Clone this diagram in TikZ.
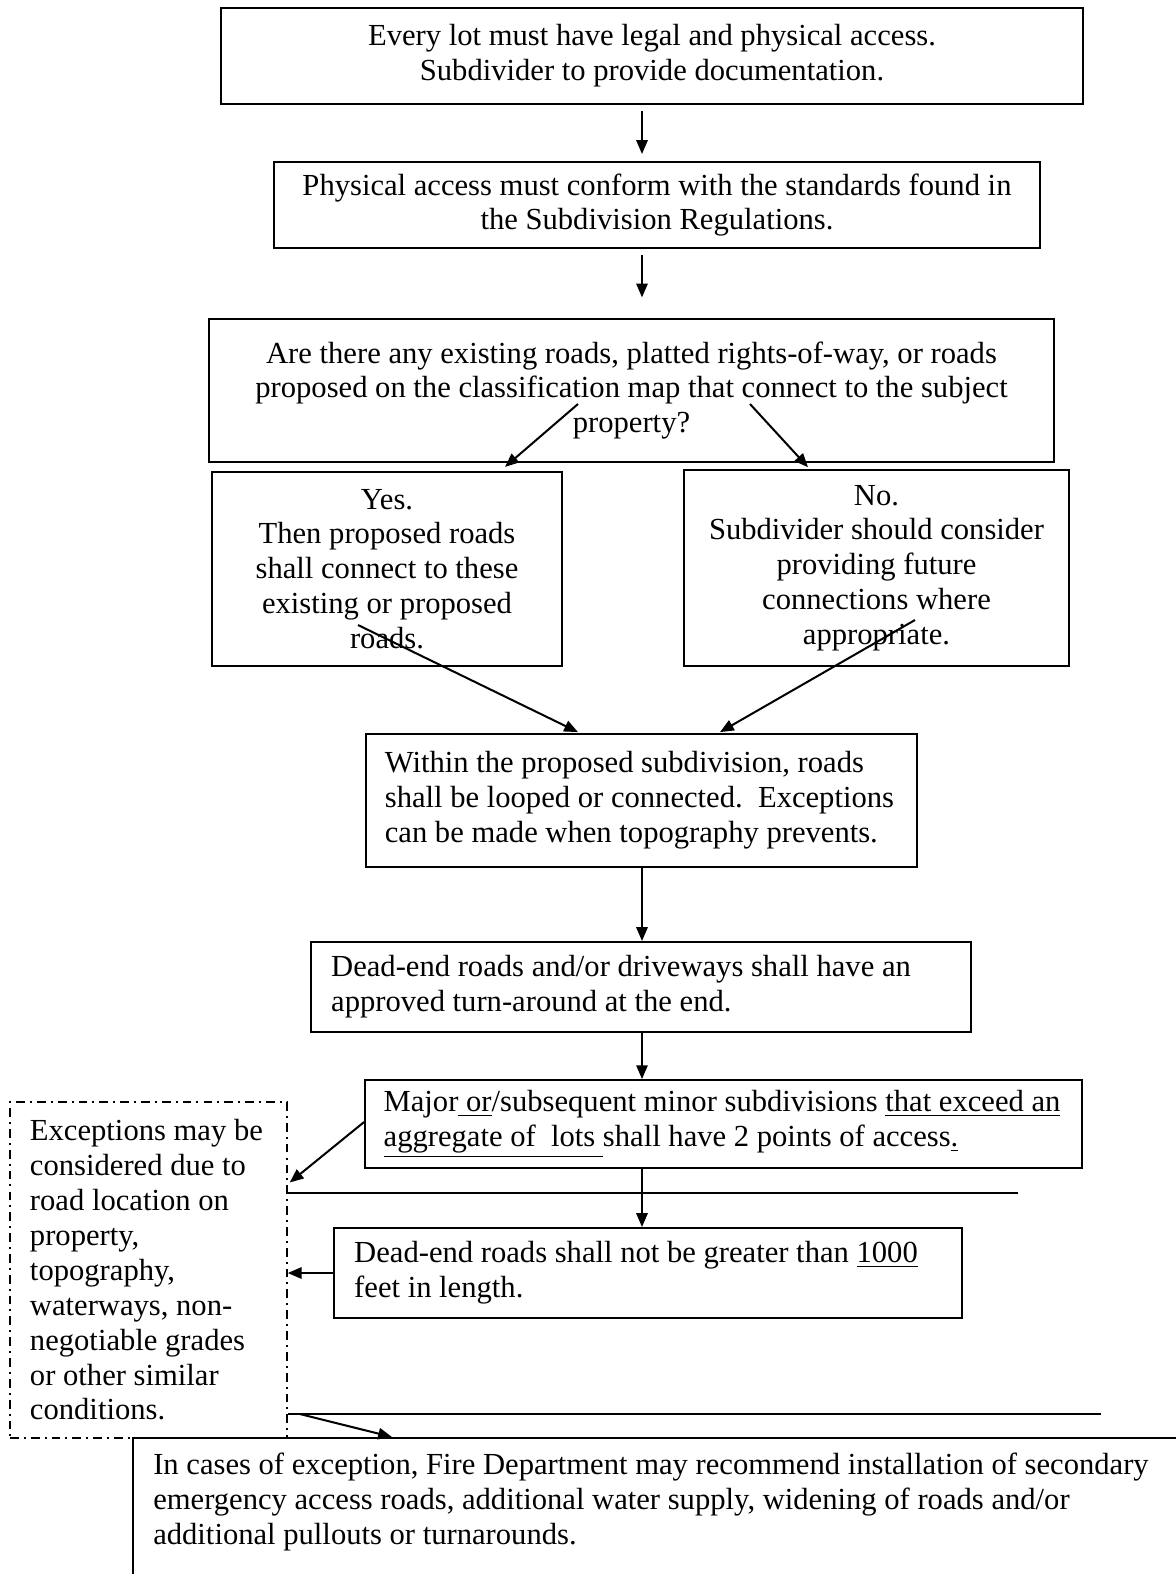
\documentclass[tikz,border=0pt]{standalone}
\usepackage{fontspec}
\setmainfont{Liberation Serif}
\usetikzlibrary{arrows.meta}

\begin{document}
\begin{tikzpicture}[x=0.014cm, y=-0.014cm, line width=0.8pt]
\tikzset{ >={Triangle[length=5.5pt,width=4.5pt]},
  box/.style={draw, inner sep=0pt, font=\fontsize{12.2}{13.9}\selectfont},
  cbox/.style={box, align=center},
  lbox/.style={box, align=flush left, inner xsep=0.27cm},
  xbox/.style={lbox, line width=0.6pt, dash pattern=on 3.5pt off 2pt on 0.8pt off 2pt},
}
\useasboundingbox (0,0) rectangle (1176,1574);
\clip (0,0) rectangle (1176,1574);
%\draw [lightgray, dashed](0,0) grid[step=100] (1176,1574);

\node [cbox, minimum width=12.07cm, minimum height=1.34cm] (A) at (652,56) {Every lot must have legal and physical access.\\ Subdivider to provide documentation.};
\node [cbox, minimum width=10.72cm, minimum height=1.20cm] (B) at (657,205) {Physical access must conform with the standards found in\\ the Subdivision Regulations.};
\node [cbox, minimum width=11.83cm, minimum height=2.00cm] (C) at (631.5,390.5) {Are there any existing roads, platted rights-of-way, or roads\\ proposed on the classification map that connect to the subject\\ property?};

\node [cbox, minimum width=4.90cm, minimum height=2.72cm] (Y) at (387,569) {Yes.\\ Then proposed roads\\ shall connect to these\\ existing or proposed\\ roads.};
\node [cbox, minimum width=5.39cm, minimum height=2.74cm] (N) at (876.5,568) {No.\\ Subdivider should consider\\ providing future\\ connections where\\ appropriate.};

\node [lbox, inner xsep=0.26cm, text width=7.19cm, minimum height=1.86cm] (D) at (641.5,800.5) {Within the proposed subdivision, roads\\ shall be looped or connected.\ \ Exceptions\\ can be made when topography prevents.};
\node [lbox, inner xsep=0.28cm, text width=8.68cm, minimum height=1.26cm] (E) at (641,987) {Dead-end roads and/or driveways shall have an\\ approved turn-around at the end.};
\node [lbox, inner xsep=0.26cm, text width=9.52cm, minimum height=1.23cm] (F) at (723.5,1124) {Major\underline{ or}/subsequent minor subdivisions \underline{that exceed an}\\ \underline{aggregate of\ \ lots\ }shall have 2 points of access\underline{.}};
\node [lbox, inner xsep=0.28cm, text width=8.23cm, minimum height=1.26cm] (G) at (648,1273) {Dead-end roads shall not be greater than \underline{1000}\\ feet in length.};

\node [xbox, inner xsep=0.28cm, text width=3.32cm, minimum height=4.70cm] (X) at (148.5,1270) {Exceptions may be\\ considered due to\\ road location on\\ property,\\ topography,\\ waterways, non-\\ negotiable grades\\ or other similar\\ conditions.};

\node [lbox, draw=none, anchor=north west, text width=15cm, minimum height=1.76cm] (H) at (133,1438) {In cases of exception, Fire Department may recommend installation of secondary\\ emergency access roads, additional water supply, widening of roads and/or\\ additional pullouts or turnarounds.};
\draw ([yshift=-0.3cm]H.south west) |- (H.north east);

\coordinate (ax) at (642,0);
\coordinate (l1) at (1018,1193);
\coordinate (l2) at (1101,1414);

\draw [->] ([yshift=-0.084cm]A.south -| ax) -- ([yshift=0.1cm]B.north -| ax);
\draw [->] ([yshift=-0.084cm]B.south -| ax) -- ([yshift=0.29cm]C.north -| ax);

\draw [->] ([shift={(-53.5,13.5)}]C.center) -- ([shift={(118,-4)}]Y.north);
\draw [->] ([shift={(118.5,13.5)}]C.center) -- ([shift={(-68.5,-2)}]N.north);

\draw [->] ([shift={(-29,56)}]Y.center) -- ([shift={(-63.5,-1)}]D.north);
\draw [->] ([shift={(38.5,52)}]N.center) -- ([shift={(78.5,-1)}]D.north);

\draw [->] (D.south -| ax) -- (E.north -| ax);
\draw [->] (E.south -| ax) -- (F.north -| ax);
\draw [->] (F.south -| ax) -- (G.north -| ax);

\draw [->] ([shift={(0,-2)}]F.west) -- ([shift={(2,81)}]X.north east);
\draw [->] (G.west) -- (G.west -| X.east);

\draw (l1 -| X.east) -- (l1);
\draw (l2 -| X.east) -- (l2);
\draw [->] ([xshift=0.17cm]l2 -| X.east) -- ([shift={(259,-1)}]H.north west);

\end{tikzpicture}
\end{document}
